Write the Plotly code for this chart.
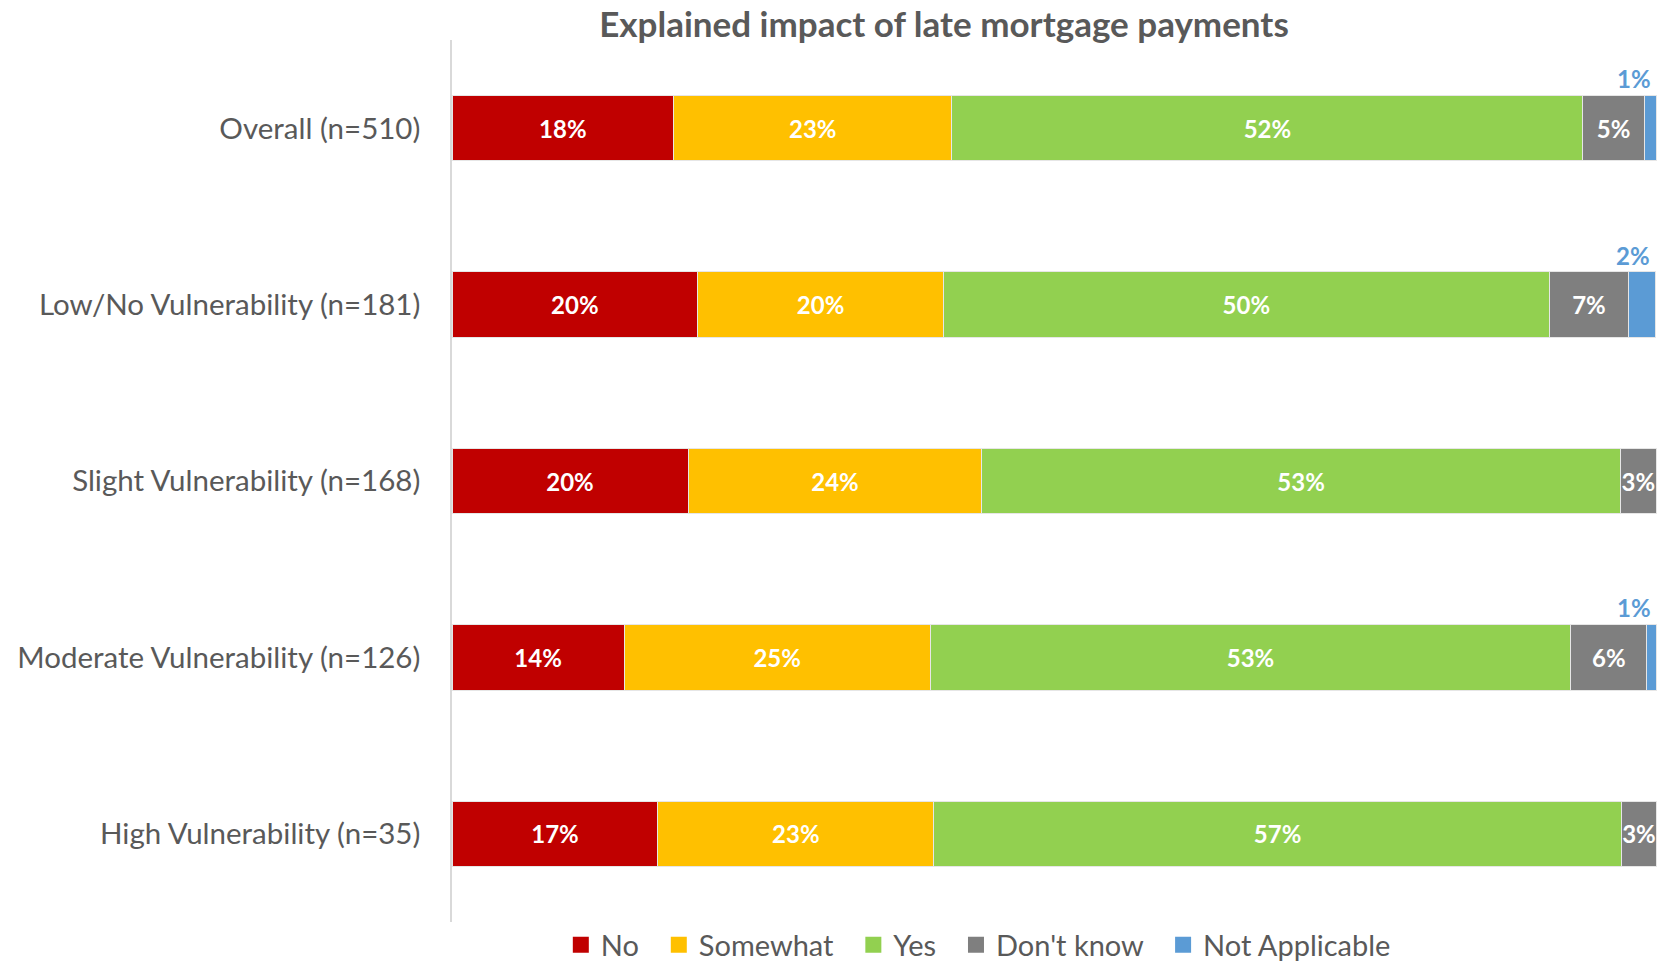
import plotly.graph_objects as go

categories = ["Overall (n=510)", "Low/No Vulnerability (n=181)", "Slight Vulnerability (n=168)",
              "Moderate Vulnerability (n=126)", "High Vulnerability (n=35)"]
series_names = ["No", "Somewhat", "Yes", "Don't know", "Not Applicable"]
no_vals = [18.4, 20.4, 19.6, 14.3, 17.1]
somewhat_vals = [23.1, 20.4, 24.4, 25.4, 22.9]
yes_vals = [52.4, 50.3, 53.0, 53.2, 57.1]
dontknow_vals = [5.1, 6.6, 3.0, 6.3, 2.9]
na_vals = [1.0, 2.2, 0.0, 0.8, 0.0]
colors = ["#C00000", "#FFC000", "#92D050", "#7F7F7F", "#5B9BD5"]

FONT = "Lato"
series = [no_vals, somewhat_vals, yes_vals, dontknow_vals, na_vals]

fig = go.Figure()
for name, vals, col in zip(series_names, series, colors):
    inside = name != "Not Applicable"
    fig.add_trace(go.Bar(
        name=name, y=categories, x=vals, orientation="h",
        marker=dict(color=col, line=dict(color="#E6E6E6", width=1)),
        text=[f"{v:.0f}%" if (inside and v > 0) else "" for v in vals],
        textposition="inside", insidetextanchor="middle", constraintext="none",
        textangle=0,
        textfont=dict(family=FONT, size=24, color="white", weight="bold"),
        width=0.37, hoverinfo="skip", showlegend=False,
    ))

# legend entries with square swatches
for name, col in zip(series_names, colors):
    fig.add_trace(go.Scatter(
        name=name + "\u00a0\u00a0", x=[None], y=[None], mode="markers",
        marker=dict(symbol="square", size=18, color=col), showlegend=True,
    ))

annotations = []
for i, cat in enumerate(categories):
    v = na_vals[i]
    if v > 0:
        total = no_vals[i] + somewhat_vals[i] + yes_vals[i] + dontknow_vals[i] + v
        annotations.append(dict(
            x=total, y=cat, xref="x", yref="y", text=f"{v:.0f}%", showarrow=False,
            xanchor="right", yanchor="bottom", yshift=33, xshift=-3,
            font=dict(family=FONT, size=24, color="#5B9BD5", weight="bold"),
        ))

fig.update_layout(
    width=1659, height=962,
    margin=dict(l=452, r=2, t=40, b=40, autoexpand=False),
    paper_bgcolor="white", plot_bgcolor="white",
    barmode="stack", bargap=0.63,
    title=dict(text="<b>Explained impact of late mortgage payments</b>", x=0.569, xanchor="center",
               y=0.974, yanchor="middle", font=dict(family=FONT, size=35, color="#595959")),
    showlegend=True,
    legend=dict(orientation="h", x=0.443, xanchor="center", y=-0.026, yanchor="middle",
                font=dict(family=FONT, size=29, color="#595959"), traceorder="normal",
                itemwidth=30, bgcolor="rgba(0,0,0,0)"),
    annotations=annotations,
)
fig.update_xaxes(range=[0, 100.05], visible=False, showgrid=False, zeroline=False, automargin=False)
fig.update_yaxes(categoryorder="array", categoryarray=categories, autorange="reversed",
                 showline=True, linecolor="#D9D9D9", linewidth=1.5, ticks="",
                 ticklabelstandoff=24, showgrid=False, automargin=False,
                 tickfont=dict(family=FONT, size=29.5, color="#595959"))

fig.write_html("out.html", config={"displayModeBar": False},
               post_script="document.body.style.margin='0px';")
